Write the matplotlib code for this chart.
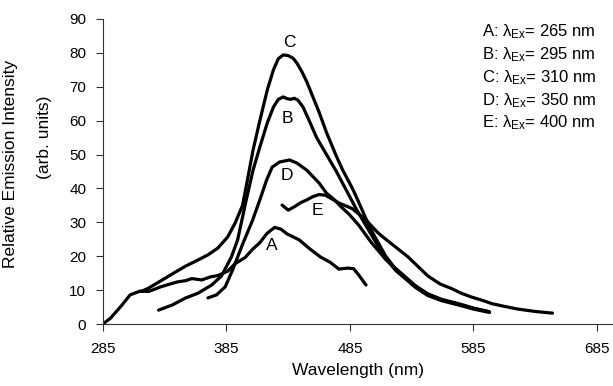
import matplotlib
matplotlib.use("Agg")
import matplotlib.pyplot as plt

plt.rcParams['font.family'] = ['Liberation Sans', 'DejaVu Sans']
plt.rcParams['mathtext.fontset'] = 'custom'
plt.rcParams['mathtext.rm'] = 'Liberation Sans'
plt.rcParams['mathtext.it'] = 'Liberation Sans'

# emission spectra (wavelength nm, intensity arb. units)
a_wl = [286, 291, 299, 307, 315, 322, 332, 345, 352, 357, 365, 372, 378, 386, 392, 400,
        406, 412, 418, 424, 429, 434, 444, 452, 461, 469, 476, 483, 488, 492, 498]
a_int = [0.3, 1.7, 5.0, 8.6, 9.7, 9.6, 11.0, 12.4, 12.8, 13.4, 13.0, 13.9, 14.3, 15.6, 17.8, 19.6,
         22.0, 24.0, 26.8, 28.5, 28.0, 26.6, 24.8, 22.3, 19.8, 18.2, 16.2, 16.5, 16.3, 14.5, 11.5]

b_wl = [330, 341, 352, 362, 373, 381, 389, 394, 401, 406.5, 412, 418, 423, 427, 431, 434,
        437, 440, 443, 447, 452, 458, 466, 474, 482, 490, 498, 504, 514, 522, 538, 548,
        559, 575, 585, 598]
b_int = [4.1, 5.6, 7.7, 9.1, 11.5, 14.2, 19.8, 24.8, 36.6, 45.4, 52.2, 59.3, 64.0, 66.3, 67.0, 66.5,
         66.3, 66.6, 66.0, 64.0, 60.0, 55.0, 50.0, 45.0, 39.5, 34.0, 29.0, 25.3, 19.3, 15.8, 10.8, 8.4,
         6.9, 5.4, 4.4, 3.4]

c_wl = [316, 322, 333, 344, 352, 362, 370, 378, 386, 392, 398, 402, 406.5, 412, 418, 423,
        427, 431, 435, 439, 442, 446, 450, 455, 460, 466, 474, 479, 487, 492, 498, 504,
        514, 522, 538, 548, 559, 575, 585, 598]
c_int = [9.6, 10.6, 13.0, 15.4, 17.1, 18.9, 20.4, 22.4, 25.7, 29.8, 35.0, 42.6, 51.3, 60.0, 69.0, 75.0,
         78.3, 79.4, 79.2, 78.4, 77.0, 74.5, 71.5, 67.0, 62.5, 56.5, 49.5, 45.5, 40.0, 36.0, 31.0, 26.5,
         20.0, 16.2, 11.2, 8.8, 7.2, 5.6, 4.6, 3.6]

d_wl = [370, 377, 384, 390, 398, 406, 412, 417.5, 422, 428, 436, 442, 450, 460, 466, 472,
        478, 484, 492, 502, 514, 522, 538, 548, 559, 575, 585, 597]
d_int = [7.7, 8.6, 11.0, 16.0, 23.5, 30.5, 36.6, 42.5, 46.3, 47.8, 48.4, 47.5, 45.4, 41.6, 38.6, 36.8,
         34.5, 32.5, 29.2, 24.2, 19.0, 16.4, 11.3, 8.9, 7.3, 5.8, 4.7, 3.7]

e_wl = [430, 435, 440, 445, 450, 455, 460, 465, 470, 476, 482, 487, 492, 498, 503, 508,
        515, 522, 532, 540, 548, 558, 567, 575, 583, 592, 600, 610, 621, 635, 649]
e_int = [35.1, 33.6, 34.6, 35.8, 36.6, 37.6, 38.2, 38.0, 37.0, 35.7, 34.8, 34.0, 32.5, 30.7, 28.7, 26.8,
         24.7, 22.7, 19.8, 17.0, 14.2, 11.8, 10.5, 9.1, 8.0, 7.0, 6.0, 5.2, 4.4, 3.7, 3.2]

spectra = [(a_wl, a_int), (b_wl, b_int), (c_wl, c_int), (d_wl, d_int), (e_wl, e_int)]

# curve letters and where they sit
curve_names = ['A', 'B', 'C', 'D', 'E']
name_x = [422, 434, 436, 434, 459]
name_y = [23.3, 60.5, 83.2, 43.7, 33.6]

ex_wl = [265, 295, 310, 350, 400]

x_ticks = [285, 385, 485, 585, 685]
y_ticks = list(range(0, 91, 10))

fig = plt.figure(figsize=(6.13, 3.86), dpi=100)
ax = fig.add_axes([103 / 613, 62 / 386, 510 / 613, 305 / 386])

for wl, inten in spectra:
    ax.plot(wl, inten, color='black', lw=2.3, solid_capstyle='round', solid_joinstyle='round')

for n, x, y in zip(curve_names, name_x, name_y):
    ax.text(x, y, n, fontsize=12.5, ha='center', va='center')

ax.set_xlim(285, 698)
ax.set_ylim(0, 90)
ax.set_xticks(x_ticks)
ax.set_yticks(y_ticks)
ax.tick_params(direction='out', length=5, width=0.8, labelsize=11, color='#333333')
ax.tick_params(axis='y', pad=7)
ax.tick_params(axis='x', pad=8)
for side in ['top', 'right']:
    ax.spines[side].set_visible(False)
for side in ['left', 'bottom']:
    ax.spines[side].set_linewidth(0.8)
    ax.spines[side].set_color('#333333')

ax.set_xlabel('Wavelength (nm)', fontsize=12.5, labelpad=5)
fig.text(11 / 613, 1 - 164 / 386, 'Relative Emission Intensity', rotation=90,
         fontsize=12.5, ha='center', va='center')
fig.text(45 / 613, 1 - 137 / 386, '(arb. units)', rotation=90,
         fontsize=12.5, ha='center', va='center')

for i, (n, ex) in enumerate(zip(curve_names, ex_wl)):
    fig.text(482 / 613, 1 - (32 + 22.75 * i) / 386,
             n + r': λ$_{\mathrm{Ex}}$= ' + f'{ex} nm',
             fontsize=12, ha='left', va='center')

fig.savefig('out.png', dpi=100)
